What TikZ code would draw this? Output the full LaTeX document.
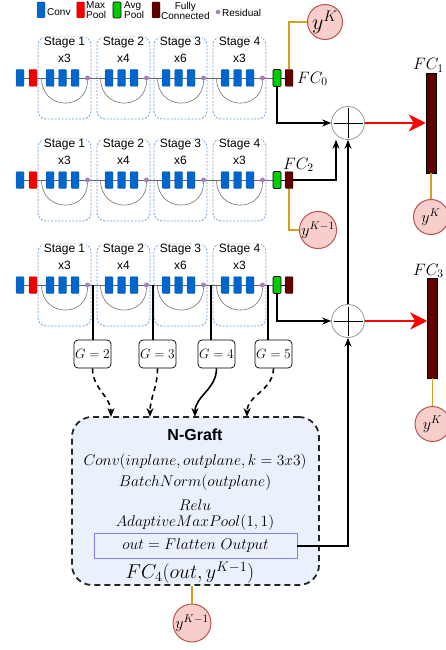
\documentclass[tikz,border=0pt]{standalone}
\usepackage{fix-cm}
\usepackage{fontspec}
\setsansfont{Liberation Sans}
\usetikzlibrary{arrows.meta,calc}
\definecolor{convblue}{RGB}{0,102,204}
\definecolor{poolred}{RGB}{240,0,0}
\definecolor{avggreen}{RGB}{0,204,0}
\definecolor{fcred}{RGB}{96,0,0}
\definecolor{resdot}{RGB}{166,128,184}
\definecolor{stageblue}{RGB}{108,160,220}
\definecolor{goldc}{RGB}{212,160,32}
\definecolor{ycircfill}{RGB}{248,206,204}
\definecolor{ycircdraw}{RGB}{184,84,80}
\definecolor{graftfill}{RGB}{234,241,252}
\definecolor{outblue}{RGB}{128,128,255}
\tikzset{
  blk/.style={rectangle, inner sep=0pt, minimum width=8pt, minimum height=17pt, rounded corners=1pt, line width=0.4pt},
  convb/.style={blk, fill=convblue, draw=convblue!70!black, dash pattern=on 1pt off 1pt},
  maxb/.style={blk, fill=poolred, draw=poolred!70!black, dash pattern=on 1pt off 1pt},
  avgb/.style={blk, fill=avggreen, draw=black, line width=0.6pt},
  fcb/.style={blk, fill=fcred, draw=black, dash pattern=on 1pt off 1pt},
  resd/.style={circle, fill=resdot, inner sep=0pt, minimum size=5pt},
  rowline/.style={draw=gray!80!black, line width=0.6pt},
  arcline/.style={draw=gray!90!black, line width=0.6pt},
  stagebox/.style={rectangle, draw=stageblue, dash pattern=on 2pt off 1.5pt, line width=0.8pt, rounded corners=8pt, minimum width=53pt, minimum height=82pt, inner sep=0pt},
  stagelbl/.style={font=\sffamily\fontsize{12}{14}\selectfont, inner sep=1pt},
  legtxt/.style={font=\sffamily\fontsize{10}{10}\selectfont, inner sep=0pt},
  ycirc/.style={circle, fill=ycircfill, draw=ycircdraw, line width=1pt, minimum size=35pt, inner sep=0pt, font=\fontsize{16}{18}\selectfont},
  plusc/.style={circle, draw=gray, line width=0.6pt, fill=white, minimum size=33pt, inner sep=0pt,
    path picture={\draw[black, line width=0.9pt, shorten <=2pt, shorten >=2pt] (path picture bounding box.west) -- (path picture bounding box.east);
      \draw[black, line width=0.9pt, shorten <=2pt, shorten >=2pt] (path picture bounding box.north) -- (path picture bounding box.south);}},
  fclbl/.style={font=\fontsize{16.5}{18}\selectfont, inner sep=0pt},
  bigfc/.style={rectangle, fill=fcred, draw=black, line width=0.5pt, minimum width=10pt, minimum height=100pt, inner sep=0pt},
  gbox/.style={rectangle, rounded corners=4pt, draw=black, line width=0.7pt, fill=white, minimum width=37pt, minimum height=28pt, inner sep=0pt, font=\fontsize{13.4}{15}\selectfont},
  gline/.style={draw=black, line width=1.6pt},
  garrow/.style={draw=black, line width=1.6pt, -{Stealth[length=9pt,width=7pt]}},
  gdash/.style={garrow, dash pattern=on 5pt off 4pt},
  blackarrow/.style={draw=black, line width=1.6pt, -{Stealth[length=9pt,width=7pt]}},
  redarrow/.style={draw=red, line width=2.6pt, -{Stealth[length=17pt,width=17pt,inset=5pt]}},
  goldline/.style={draw=goldc, line width=1.3pt},
  graft/.style={rectangle, rounded corners=20pt, draw=black!85, fill=graftfill, line width=1.8pt, dash pattern=on 6pt off 4pt, minimum width=247pt, minimum height=168pt, inner sep=0pt},
  mtxt/.style={font=\fontsize{15.5}{18}\selectfont, inner sep=0pt},
  outbox/.style={rectangle, draw=outblue, line width=0.8pt, minimum width=203pt, minimum height=25pt, inner sep=0pt, font=\fontsize{15.5}{18}\selectfont},
}
\newcommand{\netrow}[2]{%
  \coordinate (#2st) at (16,#1);
  \coordinate (#2en) at (273,#1);
  \draw[rowline] (#2st) -- (#2en);
  \node[convb] (#2c0) at (20,#1) {};
  \node[maxb] (#2m0) at (33,#1) {};
  \foreach \sx/\i/\rep in {38/1/3,97/2/4,154/3/6,213/4/3}{%
    \node[stagebox] (#2s\i) at (\sx+26.5,#1) {};
    \coordinate (#2a\i) at (\sx+3.5,#1);
    \node[convb] (#2c\i p) at (\sx+12,#1) {};
    \node[convb] (#2c\i q) at (\sx+24.5,#1) {};
    \node[convb] (#2c\i r) at (\sx+37,#1) {};
    \node[resd] (#2d\i) at (\sx+49.5,#1) {};
    \draw[arcline] (#2a\i) .. controls +(0,33) and +(0,33) .. (#2d\i);
    \node[stagelbl, fill=white] (#2l\i) at (\sx+26.5,#1-35) {Stage \i};
    \node[stagelbl] (#2n\i) at (\sx+26.5,#1-20) {x\rep};
  }
  \node[avgb] (#2g) at (277,#1) {};
  \node[fcb] (#2f) at (289,#1) {};
  \draw[black, line width=0.6pt] (#2g) -- (#2f);
}
\begin{document}
\begin{tikzpicture}[x={(1pt,0)}, y={(0,-1pt)}]
\useasboundingbox (0,0) rectangle (445,650);
% legend
\node[convb, minimum height=16pt] (lg1) at (41,10) {};
\node[legtxt, anchor=west] (lt1) at (47,12) {Conv};
\node[maxb, minimum height=16pt] (lg2) at (80.5,10) {};
\node[legtxt, anchor=west, align=left] (lt2) at (86,10.5) {Max\\Pool};
\node[avgb, minimum height=16pt] (lg3) at (117,10) {};
\node[legtxt, anchor=west, align=left] (lt3) at (124,10.5) {Avg\\Pool};
\node[fcb, minimum height=16pt] (lg4) at (156,10) {};
\node[legtxt, anchor=west, align=center] (lt4) at (161,10.5) {Fully\\Connected};
\node[resd, minimum size=4.5pt] (lg5) at (218,12) {};
\node[legtxt, anchor=west] (lt5) at (222,12.5) {Residual};
% rows
\netrow{78}{ra}
\netrow{180}{rb}
\netrow{285}{rc}
% labels FC
\node[fclbl, anchor=west] (fc0) at (297,79) {$FC_0$};
\node[fclbl, anchor=base west] (fc2) at (283,169) {$FC_2$};
% circles right
\node[ycirc, font=\fontsize{22}{24}\selectfont] (yk1) at (325,22) {$y^{K}$};
\node[ycirc] (yk2) at (318,230) {$y^{K-1}$};
\node[plusc] (p1) at (348,123) {};
\node[plusc] (p2) at (348,321) {};
\node[bigfc] (fb1) at (431,123) {};
\node[bigfc] (fb2) at (432.5,328) {};
\node[fclbl, anchor=base west] (fc1) at (413,70) {$FC_1$};
\node[fclbl, anchor=base west] (fc3) at (413,275) {$FC_3$};
\node[ycirc] (yk3) at (431,217) {$y^{K}$};
\node[ycirc] (yk4) at (432.5,424) {$y^{K}$};
% golden lines
\draw[goldline] (raf.north) |- (yk1.west);
\draw[goldline] (rbf.south) |- (yk2.west);
\draw[goldline] (fb1.south) -- (yk3.north);
\draw[goldline] (fb2.south) -- (yk4.north);
% black arrows
\draw[blackarrow] (rag.south) |- (p1.west);
\draw[blackarrow] (rbf.east) -| ($(p1.south)+(-12pt,0)$);
\draw[blackarrow] (rcg.south) |- (p2.west);
\draw[blackarrow] (p2.north) -- (p1.south);
% red arrows
\draw[redarrow] (p1.east) -- (p1.east -| fb1.west);
\draw[redarrow] (p2.east) -- (p2.east -| fb2.west);
% G boxes
\node[gbox] (g2) at (92.5,354) {$G=2$};
\node[gbox] (g3) at (157.5,354) {$G=3$};
\node[gbox] (g4) at (216.5,354) {$G=4$};
\node[gbox] (g5) at (273.5,354) {$G=5$};
\coordinate (t2) at (93,285);
\coordinate (t3) at (153,285);
\coordinate (t4) at (211,285);
\coordinate (t5) at (268,285);
\draw[gline] (t2) -- (t2 |- g2.north);
\draw[gline] (t3) -- (t3 |- g3.north);
\draw[gline] (t4) -- (t4 |- g4.north);
\draw[gline] (t5) -- (t5 |- g5.north);
% N-Graft box
\node[graft] (ng) at (195.5,501) {};
\coordinate (e2) at (111,417);
\coordinate (e3) at (150,417);
\coordinate (e4) at (195,417);
\coordinate (e5) at (247,417);
\draw[gdash] (g2.south) to[out=-90,in=90] (e2);
\draw[gdash] (g3.south) to[out=-90,in=90] (e3);
\draw[garrow] (g4.south) to[out=-90,in=90] (e4);
\draw[gdash] (g5.south) to[out=-90,in=90] (e5);
\node[font=\sffamily\bfseries\fontsize{16}{18}\selectfont, inner sep=0pt] (ngt) at (195,435) {N-Graft};
\node[mtxt] (ng1) at (195,462) {$Conv(inplane, outplane, k = 3x3)$};
\node[mtxt] (ng2) at (195,483) {$BatchNorm(outplane)$};
\node[mtxt] (ng3) at (195,505) {$Relu$};
\node[mtxt] (ng4) at (195,523) {$AdaptiveMaxPool(1,1)$};
\node[outbox] (ob) at (195.5,546) {$out = Flatten\ Output$};
\node[font=\fontsize{20}{22}\selectfont, inner sep=0pt] (ng5) at (190,573) {$FC_4(out, y^{K-1})$};
\node[ycirc, minimum size=38pt] (yk5) at (192,623) {$y^{K-1}$};
\draw[goldline] (yk5.north |- ng.south) -- (yk5.north);
\draw[blackarrow] (ob.east) -| (p2.south);
\end{tikzpicture}
\end{document}
